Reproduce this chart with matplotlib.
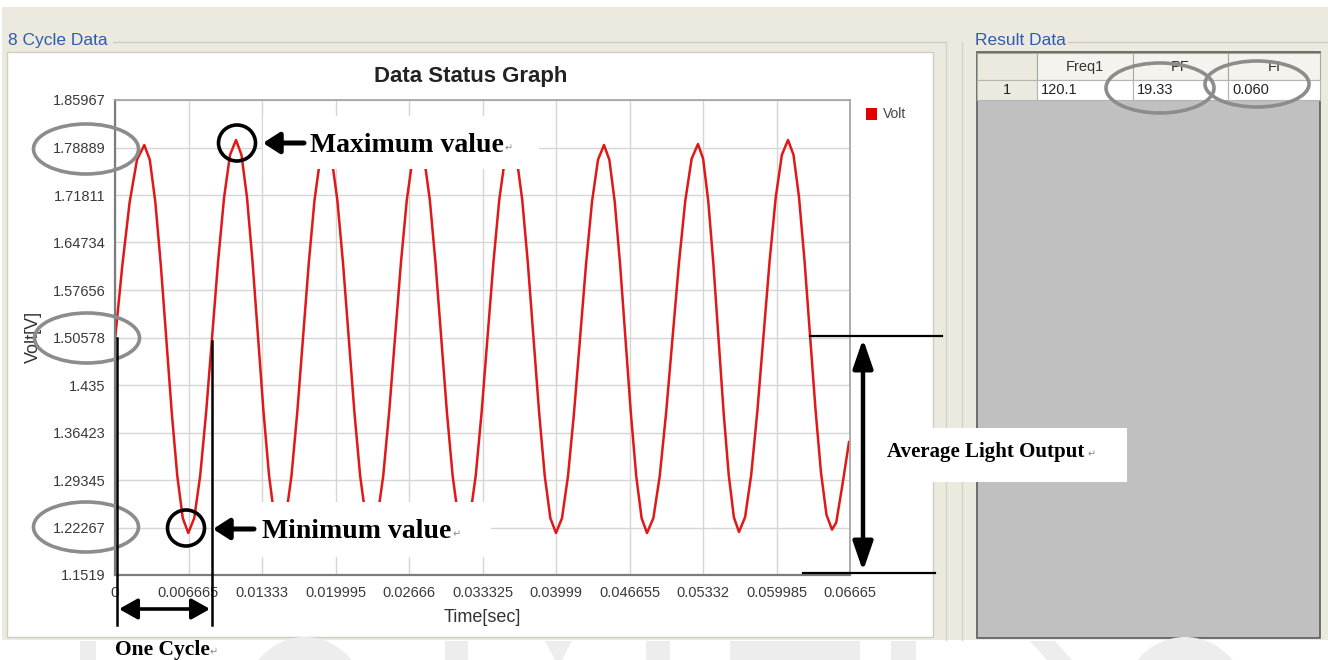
import matplotlib
matplotlib.use("Agg")
import matplotlib.pyplot as plt
from matplotlib.patches import Rectangle, Ellipse, Polygon

# ---- measured light-output waveform (time in s, signal in V) ----
time_s = [
    0.000000, 0.000664, 0.001329, 0.001993,
    0.002657,
    0.003156, 0.003655, 0.004153, 0.004652, 0.005151, 0.005650, 0.006148,
    0.006647,
    0.007188, 0.007728, 0.008269, 0.008810, 0.009350, 0.009891, 0.010431,
    0.010972,
    0.011471, 0.011970, 0.012468, 0.012967, 0.013466, 0.013965, 0.014463,
    0.014962,
    0.015483, 0.016005, 0.016526, 0.017048, 0.017569, 0.018090, 0.018612,
    0.019133,
    0.019649, 0.020165, 0.020680, 0.021196, 0.021712, 0.022228, 0.022743,
    0.023259,
    0.023792, 0.024325, 0.024857, 0.025390, 0.025923, 0.026456, 0.026988,
    0.027521,
    0.028037, 0.028553, 0.029068, 0.029584, 0.030100, 0.030616, 0.031131,
    0.031647,
    0.032180, 0.032713, 0.033245, 0.033778, 0.034311, 0.034844, 0.035376,
    0.035909,
    0.036419, 0.036929, 0.037439, 0.037949, 0.038459, 0.038969, 0.039479,
    0.039989,
    0.040533, 0.041077, 0.041621, 0.042166, 0.042710, 0.043254, 0.043798,
    0.044342,
    0.044829, 0.045317, 0.045804, 0.046292, 0.046779, 0.047266, 0.047754,
    0.048241,
    0.048819, 0.049397, 0.049975, 0.050554, 0.051132, 0.051710, 0.052288,
    0.052866,
    0.053331, 0.053795, 0.054260, 0.054725, 0.055189, 0.055654, 0.056118,
    0.056583,
    0.057139, 0.057694, 0.058250, 0.058805, 0.059361, 0.059916, 0.060472,
    0.061027,
    0.061526, 0.062024, 0.062523, 0.063022, 0.063521, 0.064020, 0.064518,
    0.065017,
    0.065400, 0.065950, 0.066560,
]
volt = [
    1.5020, 1.6132, 1.7075, 1.7705,
    1.7926,
    1.7706, 1.7079, 1.6142, 1.5036, 1.3929, 1.2992, 1.2365,
    1.2145,
    1.2368, 1.3003, 1.3953, 1.5073, 1.6194, 1.7143, 1.7778,
    1.8001,
    1.7778, 1.7144, 1.6195, 1.5076, 1.3956, 1.3007, 1.2373,
    1.2150,
    1.2371, 1.2999, 1.3940, 1.5050, 1.6160, 1.7101, 1.7729,
    1.7950,
    1.7729, 1.7101, 1.6160, 1.5050, 1.3940, 1.2999, 1.2371,
    1.2150,
    1.2371, 1.2999, 1.3940, 1.5050, 1.6160, 1.7101, 1.7729,
    1.7950,
    1.7729, 1.7101, 1.6160, 1.5050, 1.3940, 1.2999, 1.2371,
    1.2150,
    1.2371, 1.3001, 1.3943, 1.5055, 1.6167, 1.7109, 1.7739,
    1.7960,
    1.7739, 1.7108, 1.6165, 1.5053, 1.3940, 1.2997, 1.2366,
    1.2145,
    1.2365, 1.2992, 1.3929, 1.5036, 1.6142, 1.7079, 1.7706,
    1.7926,
    1.7706, 1.7079, 1.6142, 1.5036, 1.3929, 1.2992, 1.2365,
    1.2145,
    1.2366, 1.2994, 1.3934, 1.5043, 1.6152, 1.7092, 1.7720,
    1.7941,
    1.7721, 1.7094, 1.6157, 1.5051, 1.3944, 1.3007, 1.2380,
    1.2160,
    1.2382, 1.3015, 1.3963, 1.5081, 1.6198, 1.7146, 1.7779,
    1.8001,
    1.7780, 1.7151, 1.6209, 1.5098, 1.3987, 1.3045, 1.2416,
    1.2195,
    1.2300, 1.2850, 1.3500,
]

x_tick_labels = ["0", "0.006665", "0.01333", "0.019995", "0.02666", "0.033325",
                 "0.03999", "0.046655", "0.05332", "0.059985", "0.06665"]
y_tick_labels = ["1.1519", "1.22267", "1.29345", "1.36423", "1.435", "1.50578",
                 "1.57656", "1.64734", "1.71811", "1.78889", "1.85967"]
x_ticks = [float(s) for s in x_tick_labels]
y_ticks = [float(s) for s in y_tick_labels]

result_header = ["", "Freq1", "PF", "FI"]
result_row = ["1", "120.1", "19.33", "0.060"]

W, H = 1328, 660
SANS = "Liberation Sans"
SERIF = ["Liberation Serif", "DejaVu Sans"]
BEIGE = "#ECEADF"

fig = plt.figure(figsize=(W / 100, H / 100), dpi=100, facecolor="white")


def overlay(z):
    a = fig.add_axes([0, 0, 1, 1], zorder=z)
    a.set_xlim(0, W)
    a.set_ylim(H, 0)
    a.axis("off")
    a.patch.set_alpha(0)
    return a


back = overlay(0)

# ---- window background, group boxes, panels ----
back.add_patch(Rectangle((2, 7), W - 2, 633, fc=BEIGE, ec="none"))
back.plot([113, 946], [42, 42], color="#CFCDBF", lw=1)
back.plot([946, 946], [42, 640], color="#D4D2C4", lw=1)
back.plot([1068, W], [42, 42], color="#CFCDBF", lw=1)
back.plot([962, 962], [42, 640], color="#D4D2C4", lw=1)
back.add_patch(Rectangle((7, 52), 926, 585, fc="white", ec="#D0CEC4", lw=1))

back.text(8, 45, "8 Cycle Data", color="#2F5DA8", fontsize=12.5, family=SANS,
          ha="left", va="baseline")
back.text(975, 45, "Result Data", color="#2F5DA8", fontsize=12.5, family=SANS,
          ha="left", va="baseline")

# ---- result table ----
col_edges = [977, 1037, 1133, 1228, 1320]
back.add_patch(Rectangle((977, 52), 343, 586, fc="#C0C0C0", ec="#5A5A5A", lw=1.2))
for i in range(4):
    x0, x1 = col_edges[i], col_edges[i + 1]
    back.add_patch(Rectangle((x0, 53), x1 - x0, 27,
                             fc=BEIGE if i == 0 else "#F4F3EE", ec="#A8A8A0", lw=0.8))
    back.add_patch(Rectangle((x0, 80), x1 - x0, 20,
                             fc=BEIGE if i == 0 else "white", ec="#B4B4B0", lw=0.8))
    if result_header[i]:
        back.text((x0 + x1) / 2, 67, result_header[i], fontsize=10.5, family=SANS,
                  color="#333333", ha="center", va="center")
    if i == 0:
        back.text((x0 + x1) / 2, 90, result_row[i], fontsize=10.5, family=SANS,
                  color="#222222", ha="center", va="center")
    else:
        back.text(x0 + 4, 90, result_row[i], fontsize=10.5, family=SANS,
                  color="#222222", ha="left", va="center")

# ---- faint watermark lettering along the bottom ----
wm = "#EDEDED"
for x0, w in [(80, 16), (445, 23), (646, 24), (730, 130), (891, 25)]:
    back.add_patch(Rectangle((x0, 641), w, 19, fc=wm, ec="none"))
back.add_patch(Ellipse((305, 712), 130, 150, fc=wm, ec="none"))
back.add_patch(Ellipse((1185, 712), 132, 150, fc=wm, ec="none"))
back.add_patch(Polygon([(545, 641), (572, 641), (562, 660), (555, 660)], fc=wm, ec="none"))
back.add_patch(Polygon([(1030, 641), (1055, 641), (1072, 660), (1047, 660)], fc=wm, ec="none"))

# axis titles
back.text(482, 617, "Time[sec]", fontsize=13, family=SANS, color="#333333",
          ha="center", va="center")
back.text(33, 337, "Volt[V]", fontsize=13, family=SANS, color="#333333",
          ha="center", va="center", rotation=90)

# ---- the chart ----
ax = fig.add_axes([115 / W, 85 / H, 735 / W, 475 / H], zorder=1)
ax.set_facecolor("white")
ax.plot(time_s, volt, color="#E01818", lw=1.8, solid_joinstyle="round")
ax.set_xlim(0, 0.06665)
ax.set_ylim(1.1519, 1.85967)
ax.set_xticks(x_ticks)
ax.set_xticklabels(x_tick_labels)
ax.set_yticks(y_ticks)
ax.set_yticklabels(y_tick_labels)
ax.tick_params(length=0, labelsize=10.5, labelcolor="#3A3A3A")
ax.tick_params(axis="x", pad=8)
ax.tick_params(axis="y", pad=7)
for lab in ax.get_xticklabels() + ax.get_yticklabels():
    lab.set_family(SANS)
ax.grid(True, color="#D6D6D6", lw=1)
ax.set_axisbelow(True)
for side in ("left", "bottom"):
    ax.spines[side].set_color("#7C7C7C")
    ax.spines[side].set_linewidth(1.6)
for side in ("top", "right"):
    ax.spines[side].set_color("#A6A6A6")
    ax.spines[side].set_linewidth(1.3)

# ---- annotations on top ----
front = overlay(5)

front.text(471, 82, "Data Status Graph", fontsize=16, fontweight="bold", family=SANS,
           color="#222222", ha="center", va="baseline")
front.add_patch(Rectangle((866, 108), 11, 12, fc="#E00000", ec="none"))
front.text(883, 114, "Volt", fontsize=10, family=SANS, color="#444444",
           ha="left", va="center")

# white label boxes
front.add_patch(Rectangle((263, 116), 276, 53, fc="white", ec="none"))
front.add_patch(Rectangle((213, 502), 278, 55, fc="white", ec="none"))
front.add_patch(Rectangle((870, 428), 257, 54, fc="white", ec="none"))

grey_ring = dict(fill=False, ec="#8C8C8C", lw=2.6)
for cx, cy in [(86, 149), (87, 338), (86, 527)]:
    front.add_patch(Ellipse((cx, cy), 105, 50, **grey_ring))
front.add_patch(Ellipse((1160, 88), 108, 50, **grey_ring))
front.add_patch(Ellipse((1257, 84), 104, 46, **grey_ring))

front.add_patch(Ellipse((237, 143), 37, 36, fill=False, ec="black", lw=2.6))
front.add_patch(Ellipse((186, 528), 37, 36, fill=False, ec="black", lw=2.6))

single = dict(arrowstyle="-|>,head_length=0.7,head_width=0.45", color="black",
              lw=3.6, shrinkA=0, shrinkB=0, mutation_scale=14)
front.annotate("", xy=(263, 143), xytext=(304, 143), arrowprops=single)
front.annotate("", xy=(213, 529), xytext=(254, 529), arrowprops=single)

front.text(310, 152, "Maximum value", fontsize=20, fontweight="bold", family=SERIF,
           color="black", ha="left", va="baseline")
front.text(262, 538, "Minimum value", fontsize=20, fontweight="bold", family=SERIF,
           color="black", ha="left", va="baseline")
front.text(115, 655, "One Cycle", fontsize=15.5, fontweight="bold", family=SERIF,
           color="black", ha="left", va="baseline")
front.text(887, 457, "Average Light Output", fontsize=15, fontweight="bold", family=SERIF,
           color="black", ha="left", va="baseline")

# paragraph marks trailing each label
ret = dict(fontsize=7, family=["DejaVu Sans"], color="#8A8A8A", ha="left", va="baseline")
front.text(505, 151, "\u21b5", **ret)
front.text(453, 537, "\u21b5", **ret)
front.text(210, 655, "\u21b5", **ret)
front.text(1088, 457, "\u21b5", **ret)

# one-cycle markers
front.plot([117, 117], [338, 625], color="black", lw=1.8)
front.plot([211.5, 211.5], [341, 625], color="black", lw=1.8)
double = dict(arrowstyle="<|-|>,head_length=0.8,head_width=0.45", color="black",
              lw=2.6, shrinkA=0, shrinkB=0, mutation_scale=14)
front.annotate("", xy=(119, 609), xytext=(210, 609), arrowprops=double)

# average light output markers
front.plot([810, 942], [336, 336], color="black", lw=1.6)
front.plot([803, 935], [573, 573], color="black", lw=1.6)
double_v = dict(arrowstyle="<|-|>,head_length=1.1,head_width=0.38", color="black",
                lw=3.2, shrinkA=0, shrinkB=0, mutation_scale=16)
front.annotate("", xy=(863, 339), xytext=(863, 571), arrowprops=double_v)

fig.savefig("out.png", dpi=100, facecolor="white")
